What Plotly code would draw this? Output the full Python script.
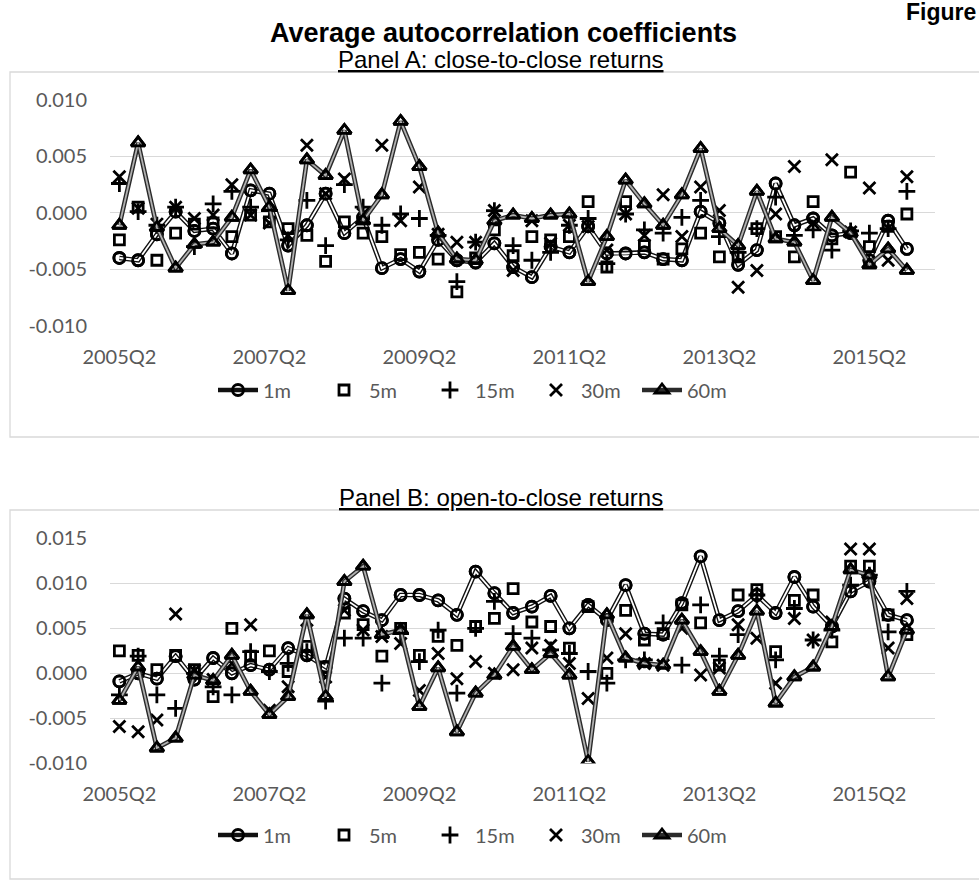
import plotly.graph_objects as go

# ---------------- data ----------------
quarters = [f"{y}Q{q}" for y in range(2005, 2017) for q in range(1, 5)][1:45]  # 2005Q2 .. 2016Q1
tick_labels = ["2005Q2", "2007Q2", "2009Q2", "2011Q2", "2013Q2", "2015Q2"]
series_names = ["1m", "5m", "15m", "30m", "60m"]

# Panel A: close-to-close returns
a_1m = [-0.0040, -0.0042, -0.0019, 0.0001, -0.0016, -0.0014, -0.0036, 0.0020, 0.0017, -0.0029,
        -0.0011, 0.0017, -0.0018, -0.0004, -0.0049, -0.0041, -0.0052, -0.0024, -0.0042, -0.0044,
        -0.0027, -0.0048, -0.0057, -0.0030, -0.0035, -0.0012, -0.0036, -0.0036, -0.0035, -0.0041,
        -0.0042, 0.0001, -0.0009, -0.0046, -0.0033, 0.0026, -0.0011, -0.0005, -0.0020, -0.0018,
        -0.0042, -0.0007, -0.0032]
a_5m = [-0.0024, 0.0005, -0.0042, -0.0018, -0.0010, -0.0009, -0.0021, -0.0002, -0.0008, -0.0014,
        -0.0020, -0.0043, -0.0008, -0.0018, -0.0021, -0.0037, -0.0035, -0.0041, -0.0070, -0.0040,
        -0.0015, -0.0038, -0.0021, -0.0024, -0.0021, 0.0010, -0.0048, 0.0010, -0.0029, -0.0041,
        -0.0032, -0.0018, -0.0039, -0.0039, -0.0014, -0.0021, -0.0039, 0.0010, -0.0023, 0.0036,
        -0.0030, -0.0012, -0.0001]
a_15m = [0.0026, 0.0001, -0.0011, 0.0005, -0.0030, 0.0008, 0.0019, 0.0005, 0.0002, -0.0024,
         0.0011, -0.0029, 0.0025, 0.0005, -0.0011, -0.0001, -0.0005, -0.0020, -0.0061, -0.0026,
         0.0002, -0.0029, -0.0042, -0.0035, -0.0011, -0.0005, -0.0045, -0.0001, -0.0015, -0.0018,
         -0.0004, 0.0011, -0.0021, -0.0035, -0.0014, 0.0014, -0.0020, -0.0015, -0.0033, -0.0016,
         -0.0018, -0.0014, 0.0019]
a_30m = [0.0032, 0.0004, -0.0010, 0.0005, -0.0005, -0.0002, 0.0025, -0.0002, -0.0009, -0.0020,
         0.0060, 0.0017, 0.0030, -0.0001, 0.0060, -0.0007, 0.0023, -0.0019, -0.0026, -0.0026,
         0.0002, -0.0051, -0.0007, -0.0027, -0.0011, -0.0012, -0.0033, -0.0001, -0.0020, 0.0016,
         -0.0021, 0.0023, 0.0002, -0.0066, -0.0051, -0.0001, 0.0041, -0.0009, 0.0047, -0.0017,
         0.0022, -0.0042, 0.0032]
a_60m = [-0.0011, 0.0062, -0.0013, -0.0049, -0.0028, -0.0026, -0.0004, 0.0038, 0.0005, -0.0069,
         0.0047, 0.0033, 0.0073, -0.0007, 0.0016, 0.0081, 0.0041, -0.0018, -0.0041, -0.0042,
         -0.0007, -0.0002, -0.0005, -0.0002, -0.0001, -0.0061, -0.0021, 0.0029, 0.0008, -0.0011,
         0.0016, 0.0057, -0.0014, -0.0029, 0.0019, -0.0023, -0.0026, -0.0060, -0.0004, -0.0018,
         -0.0046, -0.0032, -0.0051]

# Panel B: open-to-close returns
b_1m = [-0.0009, 0.0000, -0.0006, 0.0019, -0.0007, 0.0017, 0.0000, 0.0009, 0.0004, 0.0028,
        0.0020, 0.0007, 0.0083, 0.0069, 0.0059, 0.0087, 0.0087, 0.0081, 0.0065, 0.0113,
        0.0089, 0.0067, 0.0074, 0.0086, 0.0050, 0.0076, 0.0059, 0.0098, 0.0044, 0.0043,
        0.0078, 0.0130, 0.0059, 0.0069, 0.0087, 0.0067, 0.0107, 0.0074, 0.0052, 0.0091,
        0.0102, 0.0065, 0.0059]
b_5m = [0.0025, 0.0020, 0.0004, 0.0020, 0.0004, -0.0026, 0.0050, 0.0019, 0.0025, 0.0002,
        0.0030, 0.0007, 0.0067, 0.0054, 0.0019, 0.0050, 0.0020, 0.0041, 0.0031, 0.0052,
        0.0061, 0.0094, 0.0057, 0.0052, 0.0028, 0.0074, 0.0000, 0.0070, 0.0037, 0.0044,
        0.0076, 0.0056, 0.0009, 0.0087, 0.0093, 0.0024, 0.0081, 0.0087, 0.0035, 0.0119,
        0.0119, 0.0065, 0.0043]
b_15m = [-0.0024, 0.0019, -0.0024, -0.0039, 0.0000, -0.0015, -0.0024, 0.0024, 0.0002, 0.0011,
         0.0024, -0.0031, 0.0039, 0.0039, -0.0011, 0.0044, 0.0013, 0.0048, -0.0022, 0.0050,
         0.0080, 0.0044, 0.0039, 0.0026, 0.0022, 0.0002, -0.0011, 0.0015, 0.0015, 0.0056,
         0.0009, 0.0076, 0.0019, 0.0043, 0.0087, 0.0015, 0.0072, 0.0037, 0.0048, 0.0098,
         0.0109, 0.0046, 0.0091]
b_30m = [-0.0059, -0.0065, -0.0052, 0.0066, 0.0003, -0.0007, 0.0011, 0.0054, -0.0041, -0.0015,
         0.0059, -0.0004, 0.0070, 0.0048, 0.0041, 0.0033, -0.0019, 0.0022, -0.0006, 0.0013,
         0.0000, 0.0004, 0.0028, 0.0031, 0.0011, -0.0028, 0.0017, 0.0044, 0.0011, 0.0009,
         0.0050, -0.0002, 0.0006, 0.0054, 0.0039, -0.0011, 0.0061, 0.0037, 0.0057, 0.0138,
         0.0138, 0.0028, 0.0083]
b_60m = [-0.0030, 0.0007, -0.0083, -0.0072, -0.0002, -0.0008, 0.0020, -0.0020, -0.0046, -0.0026,
         0.0065, -0.0026, 0.0102, 0.0119, 0.0043, 0.0048, -0.0037, 0.0006, -0.0065, -0.0022,
         -0.0002, 0.0030, 0.0004, 0.0022, -0.0002, -0.0098, 0.0065, 0.0017, 0.0011, 0.0009,
         0.0059, 0.0024, -0.0020, 0.0020, 0.0069, -0.0033, -0.0004, 0.0007, 0.0052, 0.0115,
         0.0109, -0.0004, 0.0048]

panel_a = [a_1m, a_5m, a_15m, a_30m, a_60m]
panel_b = [b_1m, b_5m, b_15m, b_30m, b_60m]

a_ticks = [0.010, 0.005, 0.000, -0.005, -0.010]
a_tick_text = ["0.010", "0.005", "0.000", "-0.005", "-0.010"]
b_ticks = [0.015, 0.010, 0.005, 0.000, -0.005, -0.010]
b_tick_text = ["0.015", "0.010", "0.005", "0.000", "-0.005", "-0.010"]

# ---------------- styling ----------------
W, H = 979, 882
GRAY_TXT = "#595959"
GRID = "#d9d9d9"
TICK_FONT = dict(family="Lato, Carlito, Calibri, sans-serif", size=20, color=GRAY_TXT)


def px_x(v):
    return v / W


def px_y(v):
    return 1 - v / H


marker_styles = {
    "1m": dict(symbol="circle-open", size=11),
    "5m": dict(symbol="square-open", size=10),
    "15m": dict(symbol="cross-thin-open", size=12),
    "30m": dict(symbol="x-thin-open", size=12),
    "60m": dict(symbol="triangle-up-open", size=12),
}
line_series = {"1m": ("#111111", "#ffffff"), "60m": ("#2a2a2a", "#b0b0b0")}

fig = go.Figure()


def add_panel(values, xa, ya, legend):
    x = quarters[:len(values[0])]
    for name, ys in zip(series_names, values):
        ms = marker_styles[name]
        marker = dict(symbol=ms["symbol"], size=ms["size"], color="black",
                      line=dict(color="black", width=2.8))
        if name in line_series:
            dark, light = line_series[name]
            fig.add_trace(go.Scatter(x=x, y=ys, mode="lines+markers", name=name,
                                     line=dict(color=dark, width=4.6), marker=marker,
                                     xaxis=xa, yaxis=ya, legend=legend, showlegend=True))
            fig.add_trace(go.Scatter(x=x, y=ys, mode="lines", name=name,
                                     line=dict(color=light, width=1.8),
                                     xaxis=xa, yaxis=ya, showlegend=False, hoverinfo="skip"))
            fig.add_trace(go.Scatter(x=x, y=ys, mode="markers", name=name, marker=marker,
                                     xaxis=xa, yaxis=ya, showlegend=False, hoverinfo="skip"))
        else:
            fig.add_trace(go.Scatter(x=x, y=ys, mode="markers", name=name, marker=marker,
                                     xaxis=xa, yaxis=ya, legend=legend, showlegend=True))


add_panel(panel_a, "x", "y", "legend")
add_panel(panel_b, "x2", "y2", "legend2")

x_dom = [px_x(110), px_x(935)]
xaxis_common = dict(type="category", categoryorder="array", categoryarray=quarters,
                    range=[-0.5, len(quarters) - 0.5], tickmode="array",
                    tickvals=tick_labels, ticktext=tick_labels, showgrid=False,
                    showline=False, zeroline=False, ticks="", tickfont=TICK_FONT,
                    ticklabelstandoff=17, domain=x_dom, fixedrange=True, automargin=False)
yaxis_common = dict(showgrid=True, gridcolor=GRID, gridwidth=1.3, zeroline=False,
                    showline=False, ticks="", tickfont=TICK_FONT, ticklabelstandoff=22,
                    fixedrange=True, automargin=False)

legend_common = dict(orientation="h", x=px_x(478), xanchor="center", yanchor="middle",
                     font=dict(family="Lato, sans-serif", size=20, color=GRAY_TXT),
                     entrywidth=51, entrywidthmode="pixels", itemwidth=40,
                     bgcolor="rgba(0,0,0,0)")

fig.update_layout(
    width=W, height=H,
    margin=dict(l=0, r=0, t=0, b=0, pad=0, autoexpand=False),
    paper_bgcolor="white", plot_bgcolor="white",
    xaxis=dict(**xaxis_common, anchor="y"),
    yaxis=dict(**yaxis_common, range=[-0.010, 0.010], tickvals=a_ticks, ticktext=a_tick_text,
               domain=[px_y(325.7), px_y(100)], anchor="x"),
    xaxis2=dict(**xaxis_common, anchor="y2"),
    yaxis2=dict(**yaxis_common, range=[-0.010, 0.015], tickvals=b_ticks, ticktext=b_tick_text,
                domain=[px_y(763.3), px_y(538.3)], anchor="x2"),
    legend=dict(**legend_common, y=px_y(390)),
    legend2=dict(**legend_common, y=px_y(835)),
    showlegend=True,
)

# chart-area borders
fig.add_shape(type="rect", xref="paper", yref="paper", x0=px_x(10), x1=px_x(995),
              y0=px_y(437), y1=px_y(72), line=dict(color=GRID, width=1.3), layer="below")
fig.add_shape(type="rect", xref="paper", yref="paper", x0=px_x(10), x1=px_x(995),
              y0=px_y(879), y1=px_y(510), line=dict(color=GRID, width=1.3), layer="below")

# titles
fig.add_annotation(text="<b>Figure</b>", x=px_x(978), y=px_y(12), xref="paper", yref="paper",
                   xanchor="right", yanchor="middle", showarrow=False,
                   font=dict(family="Liberation Sans, Arial", size=23, color="black"))
fig.add_annotation(text="<b>Average autocorrelation coefficients</b>", x=px_x(503), y=px_y(33),
                   xref="paper", yref="paper", xanchor="center", yanchor="middle", showarrow=False,
                   font=dict(family="Liberation Sans, Arial", size=27, color="black"))
fig.add_annotation(text="<u>Panel A: close-to-close returns</u>", x=px_x(501), y=px_y(60),
                   xref="paper", yref="paper", xanchor="center", yanchor="middle", showarrow=False,
                   font=dict(family="Liberation Sans, Arial", size=24, color="black"))
fig.add_annotation(text="<u>Panel B: open-to-close returns</u>", x=px_x(501), y=px_y(497),
                   xref="paper", yref="paper", xanchor="center", yanchor="middle", showarrow=False,
                   font=dict(family="Liberation Sans, Arial", size=24, color="black"))

fig.write_html("out.html", include_plotlyjs=True, config={"displayModeBar": False},
               post_script="document.body.style.margin='0px';document.body.style.overflow='hidden';")
